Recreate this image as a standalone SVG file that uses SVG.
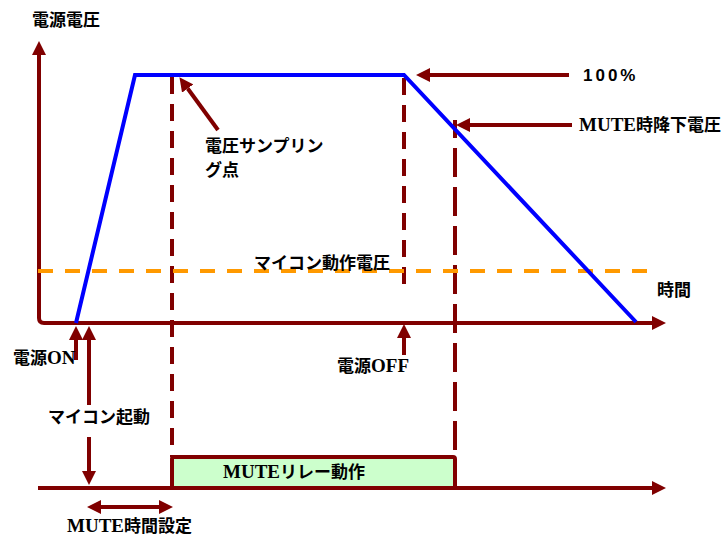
<svg xmlns="http://www.w3.org/2000/svg" width="723" height="537" viewBox="0 0 723 537">
<style>
.ax{fill:none;stroke:#800000;stroke-width:4}
.dsh{fill:none;stroke:#800000;stroke-width:4}
.jp{font-family:"Noto Sans CJK JP","Noto Sans",sans-serif;font-weight:bold;font-size:17px;fill:#000}
.lat{font-family:"Liberation Serif","Times New Roman",serif;font-weight:bold;font-size:19px}
</style>
<defs>
<marker id="ah" markerUnits="userSpaceOnUse" markerWidth="14" markerHeight="14" refX="0" refY="6.5" orient="auto-start-reverse" viewBox="0 0 13 13">
<path d="M0,0 L13,6.5 L0,13 z" fill="#800000"/>
</marker>
</defs>
<rect width="723" height="537" fill="#fff"/>
<g id="connectors">
<path class="ax" d="M39,55 L39,318 Q39,323 44,323 L652,323" marker-start="url(#ah)" marker-end="url(#ah)"/>
<path class="ax" d="M38,488 L652,488" marker-end="url(#ah)"/>
<path class="dsh" d="M172,77 L172,457" stroke-dasharray="17 10"/>
<path class="dsh" d="M404,78 L404,293" stroke-dasharray="17 10"/>
<path class="dsh" d="M455,120 L455,457" stroke-dasharray="29 10" stroke-dashoffset="11"/>
<path d="M38,271 L650,271" fill="none" stroke="#FF9900" stroke-width="4" stroke-dasharray="15 12"/>
<polyline points="76,323 135,75 404,75 636,322" fill="none" stroke="#0000FF" stroke-width="4"/>
<path class="ax" d="M569,75 L430,75" marker-end="url(#ah)"/>
<path class="ax" d="M572,125 L470,125" marker-end="url(#ah)"/>
<path class="ax" d="M218,130 L187.7,88.5" marker-end="url(#ah)"/>
<path class="ax" d="M76,360 L76,340" marker-end="url(#ah)"/>
<path class="ax" d="M89,405 L89,340" marker-end="url(#ah)"/>
<path class="ax" d="M89,437 L89,471" marker-end="url(#ah)"/>
<path class="ax" d="M404,355 L404,338" marker-end="url(#ah)"/>
<path class="ax" d="M101,507 L159,507" marker-start="url(#ah)" marker-end="url(#ah)"/>
</g>
<g id="mute-relay">
<rect x="172" y="457" width="283" height="31" rx="2" fill="#CCFFCC" stroke="#800000" stroke-width="4"/>
<text class="jp" x="294" y="478" text-anchor="middle"><tspan class="lat">MUTE</tspan>リレー動作</text>
</g>
<g id="label-voltage"><text class="jp" x="32" y="26">電源電圧</text></g>
<g id="label-100"><text x="583" y="81" font-family="Liberation Sans, Arial, sans-serif" font-weight="bold" font-size="17" letter-spacing="3">100%</text></g>
<g id="label-mute-drop"><text class="jp" x="579" y="131"><tspan class="lat">MUTE</tspan>時降下電圧</text></g>
<g id="label-sampling"><text class="jp" x="205" y="152" font-size="16">電圧サンプリン</text><text class="jp" x="205" y="176" font-size="16">グ点</text></g>
<g id="label-mcu-voltage"><text class="jp" x="254" y="269">マイコン動作電圧</text></g>
<g id="label-time"><text class="jp" x="657" y="296">時間</text></g>
<g id="label-power-on"><text class="jp" x="13" y="364">電源<tspan class="lat">ON</tspan></text></g>
<g id="label-power-off"><text class="jp" x="337" y="372">電源<tspan class="lat">OFF</tspan></text></g>
<g id="label-mcu-start"><text class="jp" x="48" y="423">マイコン起動</text></g>
<g id="label-mute-time"><text class="jp" x="67" y="532"><tspan class="lat">MUTE</tspan>時間設定</text></g>
</svg>
